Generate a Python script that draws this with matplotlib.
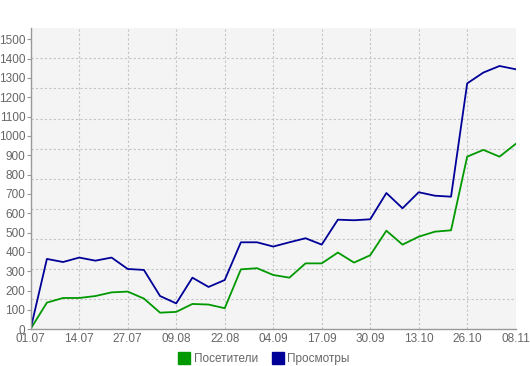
import numpy as np
import matplotlib.pyplot as plt
from matplotlib.ticker import FixedLocator, MultipleLocator
from matplotlib.lines import Line2D

#----- Data -----
date_labels = ["01.07", "14.07", "27.07", "09.08", "22.08", "04.09",
               "17.09", "30.09", "13.10", "26.10", "08.11"]
visitors = [3, 138, 162, 162, 172, 191, 195, 159, 86, 90, 131, 128, 109, 310, 316,
            281, 267, 341, 341, 397, 345, 383, 510, 438, 479, 505, 512, 893, 928, 893, 959]
views = [5, 364, 348, 371, 355, 371, 312, 307, 172, 134, 267, 219, 255, 450, 450,
         428, 450, 471, 438, 567, 564, 569, 705, 626, 709, 691, 686, 1272, 1328, 1362, 1345]

#----- Plot -----
y_top = 1557
green = "#009900"
blue = "#000099"
gray = "#666666"

plt.rcParams["font.family"] = ["Liberation Sans", "DejaVu Sans"]
fig = plt.figure(figsize=(5.3, 3.66), dpi=100)
ax = fig.add_axes([0.058, 0.1003, 0.915, 0.8224])
ax.set_facecolor("#f4f4f4")

x = np.arange(len(views))
ax.plot(x, visitors, color=green, lw=1.3)
ax.plot(x, views, color=blue, lw=1.3)

ax.set_xlim(0, len(views) - 1)
ax.set_ylim(0, y_top)

ax.set_xticks(x[::3])
ax.set_xticklabels(date_labels)
ax.yaxis.set_major_locator(MultipleLocator(100))
ax.yaxis.set_minor_locator(FixedLocator([y_top * k / 10 for k in range(1, 10)]))
ax.tick_params(axis="y", which="minor", length=0)
ax.tick_params(axis="x", length=0, pad=3)
ax.tick_params(axis="y", length=3, width=0.8, color="#999999", pad=1)
ax.tick_params(labelsize=8.5, labelcolor=gray)

ax.grid(axis="x", which="major", color="#c4c4c4", ls=(0, (2, 2)), lw=0.8)
ax.grid(axis="y", which="minor", color="#c4c4c4", ls=(0, (2, 2)), lw=0.8)

for s in ["top", "right"]:
    ax.spines[s].set_visible(False)
for s in ["left", "bottom"]:
    ax.spines[s].set_color("#999999")
    ax.spines[s].set_linewidth(1)

handles = [Line2D([], [], marker="s", ls="", color=green, markersize=8),
           Line2D([], [], marker="s", ls="", color=blue, markersize=8)]
fig.legend(handles, ["Посетители", "Просмотры"], loc="center", bbox_to_anchor=(0.498, 0.02),
           ncol=2, frameon=False, fontsize=8.5, labelcolor=gray, handletextpad=0.3,
           handlelength=1.0, columnspacing=1.2, borderpad=0)

fig.savefig("out.png", dpi=100)
